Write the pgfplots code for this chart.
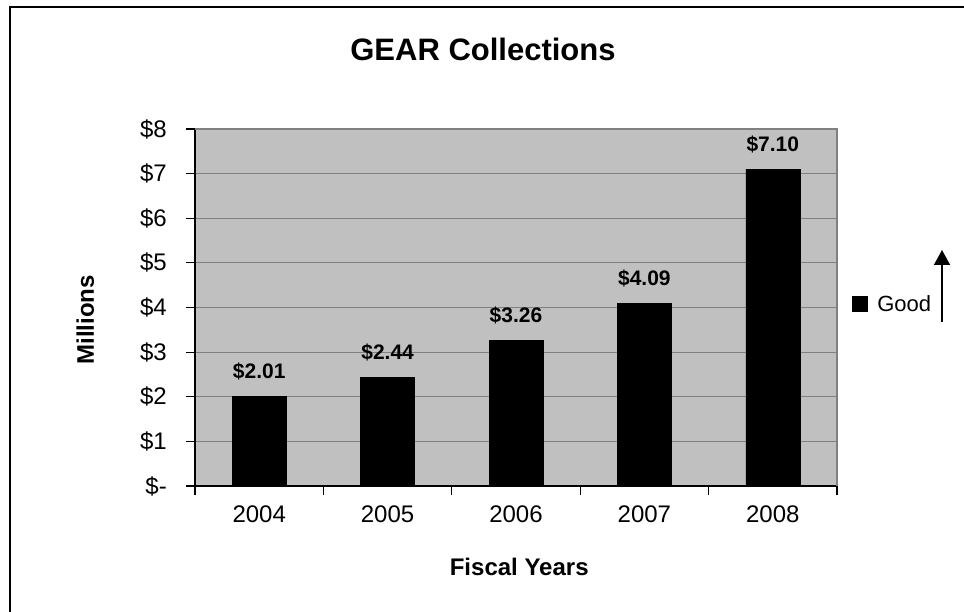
\documentclass[border=0pt]{standalone}
\usepackage{pgfplots}
\pgfplotsset{compat=1.18}
\usepackage{fontspec}
\setmainfont{Liberation Sans}
\usetikzlibrary{arrows.meta}
\definecolor{plotbg}{HTML}{C0C0C0}
\definecolor{gridgray}{HTML}{808080}
\begin{document}
\begin{tikzpicture}[x=1pt,y=1pt]
\useasboundingbox (0,0) rectangle (964,612);
\draw[line width=2pt] (10,0) -- (10,605) -- (964,605);
\node[font=\fontsize{31}{36}\selectfont\bfseries] at (483,563) {GEAR Collections};
\begin{axis}[
  at={(195pt,126pt)}, anchor=south west,
  scale only axis, width=642pt, height=357pt,
  xmin=-0.5, xmax=4.5, ymin=0, ymax=8,
  axis background/.style={fill=plotbg},
  axis x line*=bottom, axis y line*=left,
  axis line style={black, line width=1.2pt},
  ymajorgrids, grid style={gridgray, line width=1.2pt},
  ytick={0,1,...,8},
  yticklabels={\$-,\$1,\$2,\$3,\$4,\$5,\$6,\$7,\$8},
  xtick={-0.5,0.5,1.5,2.5,3.5,4.5},
  xticklabels={},
  extra x ticks={0,1,2,3,4},
  extra x tick labels={2004,2005,2006,2007,2008},
  extra x tick style={major tick length=0pt, tick style={draw=none}},
  tick align=outside, major tick length=9pt,
  tick style={black, line width=1.2pt},
  ticklabel style={font=\fontsize{24}{28}\selectfont},
  yticklabel style={anchor=east, inner sep=0pt, xshift=-19pt},
  xticklabel style={anchor=north, inner sep=0pt, yshift=-20pt},
  /pgf/number format/assume math mode=true,
  xlabel={Fiscal Years}, ylabel={Millions},
  xlabel style={font=\fontsize{24}{28}\selectfont\bfseries, at={(axis description cs:0.505,-0.227)}, anchor=center},
  ylabel style={font=\fontsize{24}{28}\selectfont\bfseries, at={(axis description cs:-0.171,0.465)}, anchor=center, rotate=0},
  clip=false,
  legend style={draw=none, fill=none, at={(axis description cs:1.023,0.51)}, anchor=west,
    font=\fontsize{22}{26}\selectfont, inner sep=0pt, column sep=8pt},
  legend image code/.code={\fill[black] (0pt,-7.5pt) rectangle (15pt,7.5pt);},
]
\draw[gridgray, line width=1.2pt] (rel axis cs:0,1) -- (rel axis cs:1,1) -- (rel axis cs:1,0);
\addplot[ybar, bar width=54pt, fill=black, draw=black,
  nodes near coords={\$\pgfmathprintnumber[fixed,fixed zerofill,precision=2]{\pgfplotspointmeta}},
  nodes near coords style={font=\fontsize{21}{25}\selectfont\bfseries, anchor=base, yshift=18pt, inner sep=0pt}]
  coordinates {(0,2.01) (1,2.44) (2,3.26) (3,4.09) (4,7.10)};
\addlegendentry{Good}
\end{axis}
\draw[line width=1.5pt, -{Triangle[width=16pt,length=15pt]}] (942,290) -- (942,362);
\end{tikzpicture}
\end{document}
